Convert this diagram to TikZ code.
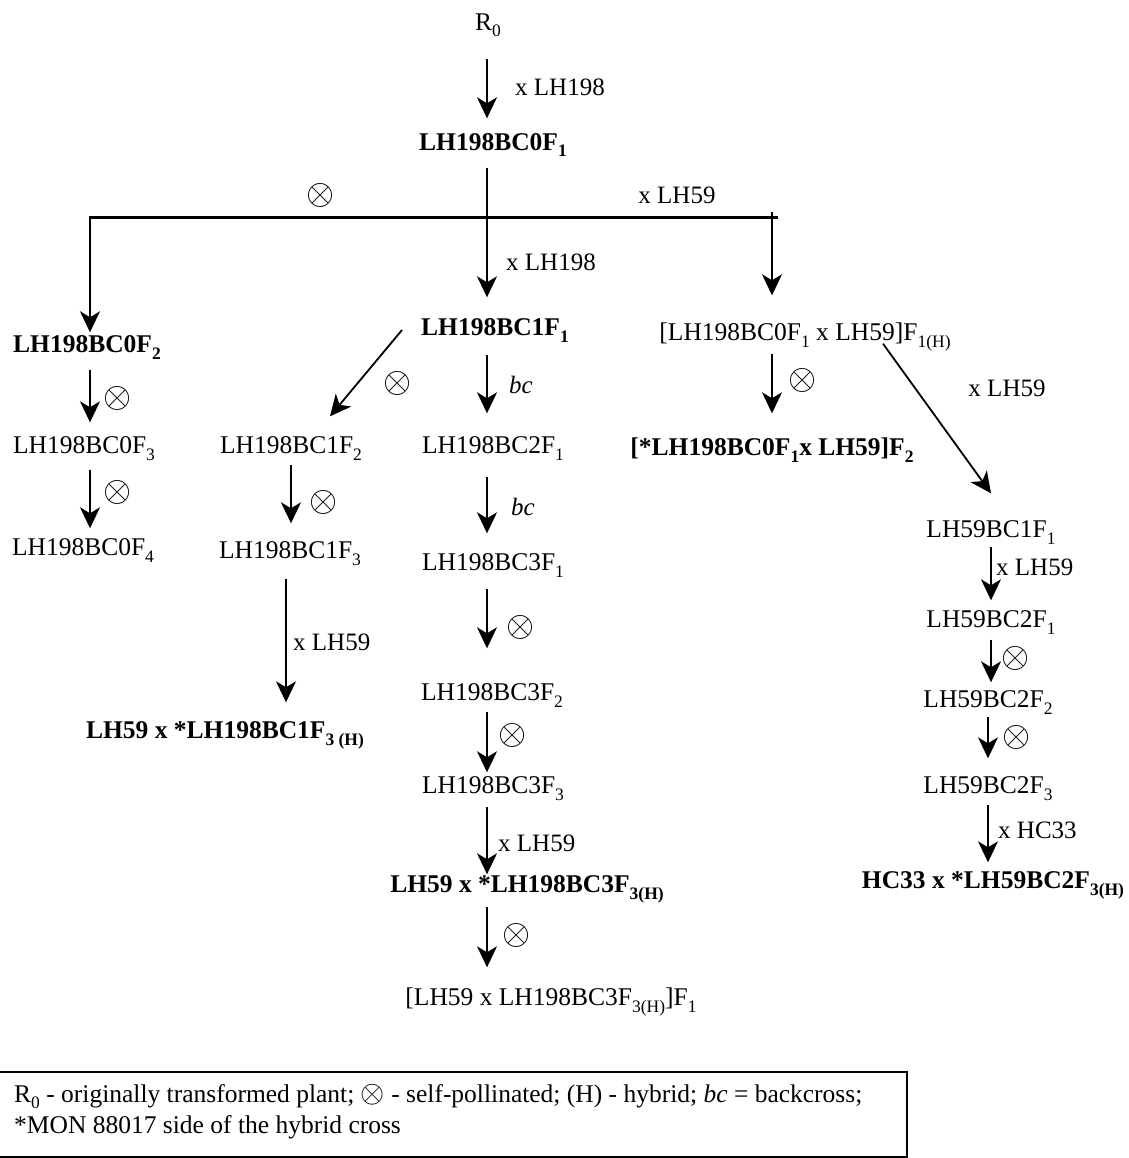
\documentclass[tikz,border=0pt]{standalone}
\usepackage{fontspec}
\setmainfont{Liberation Serif}
\usepackage{tikz}
\usetikzlibrary{arrows.meta}

\newcommand{\lo}[1]{\raisebox{-6.5pt}{\fontsize{17.5}{17.5}\selectfont #1}}
\newcommand{\selfed}[1][1.45]{\scalebox{#1}{$\otimes$}}

\begin{document}
\begin{tikzpicture}[x=1pt,y=-1pt]
            \useasboundingbox (0,0) rectangle (1128,1158);

            \coordinate (mid) at (487,0);
            \coordinate (barL) at (90,218);
            \coordinate (barR) at (778,218);
            \coordinate (tick) at (772,212);

            \begin{scope}[every node/.style={inner sep=0pt, text height=17pt, text depth=6pt,
                          font=\fontsize{25.5}{30}\selectfont\bfseries}]
                \node (c0f1) at (493,145) {LH198BC0F\lo{1}};
                \node (c0f2) at (87,347) {LH198BC0F\lo{2}};
                \node (c1f1) at (495,330) {LH198BC1F\lo{1}};
                \node (hyb2) at (772,450) {[*LH198BC0F\lo{1}x LH59]F\lo{2}};
                \node (hc1) at (225,733) {LH59 x *LH198BC1F\lo{3 (H)}};
                \node (hc3) at (527,887) {LH59 x *LH198BC3F\lo{3(H)}};
                \node (hc33) at (993,883) {HC33 x *LH59BC2F\lo{3(H)}};
            \end{scope}

            \begin{scope}[every node/.style={inner sep=0pt, text height=17pt, text depth=6pt,
                          font=\fontsize{25.5}{30}\selectfont}]
                \node (r0) at (488,25) {R\lo{0}};
                \node (hyb1) at (805,335) {[LH198BC0F\lo{1} x LH59]F\lo{1(H)}};
                \node (c0f3) at (84,448) {LH198BC0F\lo{3}};
                \node (c0f4) at (83,550) {LH198BC0F\lo{4}};
                \node (c1f2) at (291,448) {LH198BC1F\lo{2}};
                \node (c1f3) at (290,553) {LH198BC1F\lo{3}};
                \node (c2f1) at (493,448) {LH198BC2F\lo{1}};
                \node (c3f1) at (493,565) {LH198BC3F\lo{1}};
                \node (c3f2) at (492,695) {LH198BC3F\lo{2}};
                \node (c3f3) at (493,788) {LH198BC3F\lo{3}};
                \node (hc3f1) at (551,1000) {[LH59 x LH198BC3F\lo{3(H)}]F\lo{1}};
                \node (lh1) at (991,532) {LH59BC1F\lo{1}};
                \node (lh2) at (991,622) {LH59BC2F\lo{1}};
                \node (lh3) at (988,702) {LH59BC2F\lo{2}};
                \node (lh4) at (988,788) {LH59BC2F\lo{3}};
            \end{scope}

            % labels on the crosses
            \begin{scope}[every node/.style={inner sep=0pt, font=\fontsize{25}{30}\selectfont}]
                \node[anchor=west] (x1) at (515,87) {x LH198};
                \node (x2) at (677,195) {x LH59};
                \node[anchor=west] (x3) at (506,262) {x LH198};
                \node (b1) at (521,385) {\textit{bc}};
                \node (x4) at (1007,388) {x LH59};
                \node (b2) at (523,507) {\textit{bc}};
                \node[anchor=west] (x5) at (293,642) {x LH59};
                \node[anchor=west] (x6) at (498,843) {x LH59};
                \node[anchor=west] (x7) at (996,567) {x LH59};
                \node[anchor=west] (x8) at (998,830) {x HC33};
                \node (s1) at (321,195) {\selfed};
                \node (s2) at (398,383) {\selfed};
                \node (s3) at (803,380) {\selfed};
                \node (s4) at (118,398) {\selfed};
                \node (s5) at (118,492) {\selfed};
                \node (s6) at (324,502) {\selfed};
                \node (s7) at (521,627) {\selfed};
                \node (s8) at (513,735) {\selfed};
                \node (s9) at (517,935) {\selfed};
                \node (s10) at (1016,658) {\selfed};
                \node (s11) at (1017,737) {\selfed};
            \end{scope}

            \draw[line width=3pt] ([xshift=-1pt]barL) -- (barR);

            \begin{scope}[>={Stealth[length=21pt,width=20pt,inset=6pt]},
                          every edge/.style={draw=black,line width=1.8pt}]
                \path [->] (r0.south -| mid) edge[shorten <=22pt, shorten >=15pt] (c0f1.north -| mid);
                \path [->] (c0f1.south -| mid) edge[shorten <=11pt, shorten >=21pt] (c1f1.north -| mid);
                \path [->] (barL) edge[shorten >=3pt] (c0f2.north -| barL);
                \path [->] (tick) edge[shorten >=28pt] (hyb1.north -| tick);
                \path [->] ([xshift=-19pt]c1f1.west) edge ([xshift=39pt,yshift=20pt]c1f2.north);
                \path [->] (c1f1.south -| mid) edge[shorten <=13pt, shorten >=23pt] (c2f1.north -| mid);
                \path [->] (hyb1.south -| hyb2.north) edge[shorten <=7pt, shorten >=25pt] (hyb2.north);
                \path [->] ([xshift=78pt,yshift=3pt]hyb1.south) edge ([yshift=27pt]lh1.north);
                \path [->] (c0f2.south -| barL) edge[shorten <=11pt, shorten >=14pt] (c0f3.north -| barL);
                \path [->] (c0f3.south -| barL) edge[shorten <=10pt, shorten >=10pt] (c0f4.north -| barL);
                \path [->] (c1f2.south) edge[shorten <=5pt, shorten >=18pt] (c1f2.south |- c1f3.north);
                \path [->] (c1f3.south -| 286,0) edge[shorten <=14pt, shorten >=19pt] (hc1.north -| 286,0);
                \path [->] (c2f1.south -| mid) edge[shorten <=17pt, shorten >=20pt] (c3f1.north -| mid);
                \path [->] (c3f1.south -| mid) edge[shorten <=12pt, shorten >=35pt] (c3f2.north -| mid);
                \path [->] (c3f2.south -| mid) edge[shorten <=5pt, shorten >=4pt] (c3f3.north -| mid);
                \path [->] (c3f3.south -| mid) edge[shorten <=7pt, shorten >=1pt] (hc3.north -| mid);
                \path [->] (hc3.south -| mid) edge[shorten <=8pt, shorten >=21pt] (hc3f1.north -| mid);
                \path [->] (lh1.south) edge[shorten <=3pt, shorten >=10pt] (lh1.south |- lh2.north);
                \path [->] (lh2.south) edge[shorten <=6pt, shorten >=8pt] (lh2.south |- lh3.north);
                \path [->] (lh3.south) edge[shorten <=3pt, shorten >=18pt] (lh3.south |- lh4.north);
                \path [->] (lh4.south) edge[shorten <=5pt, shorten >=9pt] (lh4.south |- hc33.north);
            \end{scope}

            % key
            \draw[line width=2.5pt] (-5,1072) rectangle (907,1157);
            \begin{scope}[every node/.style={inner sep=0pt, anchor=base west, font=\fontsize{25.5}{30}\selectfont}]
                \node (k1) at (14,1102) {R\lo{0} - originally transformed plant; \selfed[1.25] - self-pollinated; (H) - hybrid; \textit{bc} = backcross;};
                \node (k2) at (14,1133) {*MON 88017 side of the hybrid cross};
            \end{scope}
        \end{tikzpicture}
\end{document}
